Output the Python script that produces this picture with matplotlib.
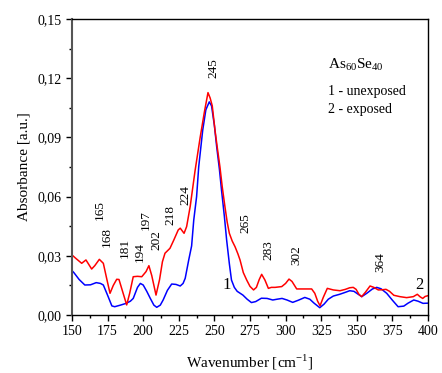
import matplotlib
matplotlib.use("Agg")
import matplotlib.pyplot as plt
from matplotlib.ticker import MultipleLocator, FuncFormatter

plt.rcParams['font.family'] = ['Liberation Serif', 'DejaVu Serif']
plt.rcParams['mathtext.fontset'] = 'custom'
plt.rcParams['mathtext.rm'] = 'Liberation Serif'

# unexposed film (curve 1)
wn_1 = [150, 151.4, 155, 159, 163, 167, 170, 172, 175, 178, 180, 184, 188, 191, 193,
        196, 198, 200, 202.5, 205, 207.5, 209.5, 212, 214, 217, 220, 223, 226, 228,
        229.5, 232, 234, 235.5, 237.5, 239, 241.8, 244, 246.4, 248, 250, 251.6, 253.5,
        255, 257, 258.6, 260.5, 262, 264, 266, 270, 273, 276, 279, 283, 287, 291, 294,
        297.5, 301, 305, 309, 313.5, 317, 320, 324, 327, 330, 333.5, 338, 342, 345,
        348, 351, 353.5, 357, 361, 364, 367, 371, 375, 379, 383, 386, 390, 393, 396.5, 400]
abs_1 = [0.0225, 0.0214, 0.0180, 0.0152, 0.0153, 0.0164, 0.0160, 0.0152, 0.0100, 0.0046,
         0.0042, 0.0050, 0.0059, 0.0070, 0.0084, 0.0140, 0.0160, 0.0152, 0.0120, 0.0084,
         0.0050, 0.0039, 0.0050, 0.0076, 0.0125, 0.0157, 0.0155, 0.0147, 0.0160, 0.0186,
         0.0280, 0.0350, 0.0481, 0.0600, 0.0752, 0.0937, 0.1040, 0.1080, 0.1060, 0.0960,
         0.0853, 0.0740, 0.0633, 0.0500, 0.0380, 0.0260, 0.0177, 0.0140, 0.0120, 0.0101,
         0.0080, 0.0063, 0.0068, 0.0085, 0.0084, 0.0076, 0.0080, 0.0084, 0.0076, 0.0064,
         0.0075, 0.0089, 0.0080, 0.0060, 0.0037, 0.0055, 0.0080, 0.0096, 0.0105, 0.0115,
         0.0123, 0.0120, 0.0105, 0.0093, 0.0110, 0.0132, 0.0140, 0.0133, 0.0110, 0.0075,
         0.0042, 0.0045, 0.0060, 0.0076, 0.0070, 0.0059, 0.0060]

# exposed film (curve 2)
wn_2 = [150, 153, 156.8, 159.8, 163.8, 166, 169.2, 172, 174.5, 176.7, 179, 181.4, 183,
        185.5, 188.4, 190.5, 193, 196, 199, 202, 204, 206, 209, 211.5, 213.5, 215.3,
        218.8, 221.5, 224.6, 226, 228.7, 230.5, 233, 236.4, 240, 243, 245.5, 247, 248.5,
        250.4, 252, 253.9, 255.5, 257.4, 259, 260.5, 262.5, 264.5, 266.5, 268, 270.3,
        272.7, 275, 277.5, 279.5, 281.5, 283.2, 285.5, 287.9, 290, 292.6, 297.3, 300,
        302.4, 304.5, 307.8, 313, 318.3, 320.5, 322.5, 324.2, 326.5, 329.3, 333.5, 338.2,
        342, 345, 347.5, 349.5, 351.5, 353.4, 356, 359.3, 362, 365.1, 368, 370.5, 373,
        376, 380.3, 385, 389.7, 392.5, 394.5, 396.3, 398, 400]
abs_2 = [0.0304, 0.0285, 0.0262, 0.0279, 0.0233, 0.0250, 0.0282, 0.0262, 0.0180, 0.0110,
         0.0150, 0.0181, 0.0180, 0.0120, 0.0051, 0.0110, 0.0194, 0.0196, 0.0194, 0.0220,
         0.0250, 0.0200, 0.0101, 0.0180, 0.0270, 0.0313, 0.0338, 0.0380, 0.0431, 0.0440,
         0.0414, 0.0448, 0.0550, 0.0730, 0.0900, 0.1030, 0.1127, 0.1100, 0.1060, 0.0938,
         0.0850, 0.0750, 0.0650, 0.0549, 0.0470, 0.0414, 0.0375, 0.0346, 0.0310, 0.0279,
         0.0215, 0.0177, 0.0145, 0.0127, 0.0140, 0.0180, 0.0206, 0.0177, 0.0135, 0.0140,
         0.0140, 0.0144, 0.0160, 0.0182, 0.0170, 0.0132, 0.0132, 0.0132, 0.0110, 0.0070,
         0.0047, 0.0090, 0.0135, 0.0127, 0.0123, 0.0130, 0.0138, 0.0140, 0.0130, 0.0105,
         0.0093, 0.0115, 0.0147, 0.0140, 0.0127, 0.0128, 0.0130, 0.0120, 0.0100, 0.0093,
         0.0088, 0.0093, 0.0105, 0.0092, 0.0084, 0.0094, 0.0098]

# band assignments and where their labels sit
bands = ['165', '168', '181', '194', '197', '202', '218', '224', '245', '265', '283', '302', '364']
band_x = [169.7, 174.4, 187.2, 197.8, 202.0, 209.0, 219.3, 229.4, 249.2, 271.5, 287.9, 307.8, 366.3]
band_y = [0.0532, 0.0397, 0.0338, 0.0321, 0.0481, 0.0380, 0.0507, 0.0608, 0.1250, 0.0465, 0.0330, 0.0304, 0.0270]

fig = plt.figure(figsize=(4.42, 3.73), dpi=100)
ax = fig.add_axes([0.1629, 0.1555, 0.8054, 0.7935])

ax.plot(wn_1, abs_1, color='blue', lw=1.1)
ax.plot(wn_2, abs_2, color='red', lw=1.1)

for t, x, y in zip(bands, band_x, band_y):
    ax.text(x, y, t, rotation=90, ha='center', va='center', fontsize=9.5)

ax.text(258.6, 0.0152, '1', ha='center', va='center', fontsize=12)
ax.text(393.7, 0.0152, '2', ha='center', va='center', fontsize=12)

ax.text(330, 0.1267, r'As$_{60}$Se$_{40}$', ha='left', va='center', fontsize=11)
ax.text(329.5, 0.1132, '1 - unexposed', ha='left', va='center', fontsize=10)
ax.text(329.5, 0.1039, '2 - exposed', ha='left', va='center', fontsize=10)

ax.set_xlim(150, 400)
ax.set_ylim(0, 0.15)
ax.xaxis.set_major_locator(MultipleLocator(25))
ax.xaxis.set_minor_locator(MultipleLocator(12.5))
ax.yaxis.set_major_locator(MultipleLocator(0.03))
ax.yaxis.set_minor_locator(MultipleLocator(0.015))
ax.yaxis.set_major_formatter(FuncFormatter(lambda v, pos: '{:.2f}'.format(v).replace('.', ',')))
ax.tick_params(which='major', direction='out', length=4, width=1, labelsize=10)
ax.tick_params(which='minor', direction='out', length=2.5, width=1)
ax.tick_params(top=False, right=False)
for s in ax.spines.values():
    s.set_linewidth(1)
ax.spines['left'].set_color('#555555')
ax.spines['left'].set_linewidth(1.5)

ax.set_xlabel('Wavenumber [cm$^{-1}$]', fontsize=11, labelpad=10)
ax.set_ylabel('Absorbance [a.u.]', fontsize=11, labelpad=5)

fig.savefig('out.png', dpi=100)
